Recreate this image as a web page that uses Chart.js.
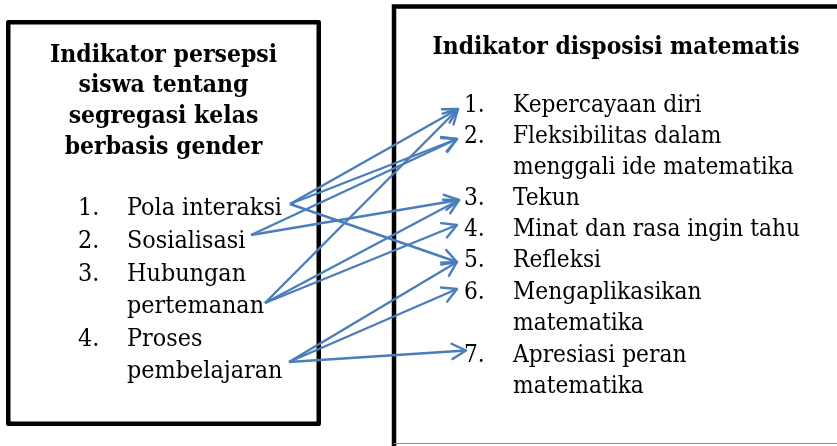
<!DOCTYPE html>
<html>
<head>
<meta charset="utf-8">
<script src="https://cdn.jsdelivr.net/npm/chart.js@4/dist/chart.umd.min.js"></script>
<style>
  html, body { margin: 0; padding: 0; background: #fff; }
  #wrap { width: 837px; height: 446px; }
</style>
</head>
<body>
<div id="wrap"><canvas id="c" width="837" height="446"></canvas></div>
<script>
// ---------- DATA ----------
const leftTitle = ["Indikator persepsi", "siswa tentang", "segregasi kelas", "berbasis gender"];
const leftNumbers = ["1.", "2.", "3.", "4."];
const leftLabels = [["Pola interaksi"], ["Sosialisasi"], ["Hubungan", "pertemanan"], ["Proses", "pembelajaran"]];

const rightTitle = ["Indikator disposisi matematis"];
const rightNumbers = ["1.", "2.", "3.", "4.", "5.", "6.", "7."];
const rightLabels = [
  ["Kepercayaan diri"],
  ["Fleksibilitas dalam", "menggali ide matematika"],
  ["Tekun"],
  ["Minat dan rasa ingin tahu"],
  ["Refleksi"],
  ["Mengaplikasikan", "matematika"],
  ["Apresiasi peran", "matematika"]
];

// links: left indicator number -> right indicator number
const linkFrom = [1, 1, 1, 2, 2, 3, 3, 3, 4, 4, 4];
const linkTo   = [1, 2, 5, 2, 3, 1, 3, 4, 5, 6, 7];

// ---------- LAYOUT (positions / sizes / styles) ----------
const layout = {
  W: 837, H: 446,
  blue: '#4a7ebb',
  font: '"DejaVu Serif Condensed", "DejaVu Serif", serif',
  capRatio: 0.729,
  leftBox: { x1: 8.25, y1: 22.25, x2: 318.75, y2: 423.75, lw: 4.5 },
  rightBox: { x1: 394, y1: 6.5, x2: 860, y2: 460, lw: 4.5, bottomY: 443.5 },
  leftTitle: { cx: 163.5, baselines: [62, 92, 123, 154], cap: 17.5, fitText: "Indikator persepsi", fitWidth: 227 },
  rightTitle: { cx: 616, baselines: [54], cap: 17.5, fitText: "Indikator disposisi matematis", fitWidth: 367 },
  leftList: { numX: 78, textX: 127, baselines: [[214.5], [247.5], [281, 313], [346, 377.5]], cap: 17.6, fitText: "Pola interaksi", fitWidth: 155 },
  rightList: { numX: 464, textX: 513, baselines: [[112], [143, 174], [205], [236], [267], [298.5, 330], [361.5, 392.5]], cap: 17.6, fitText: "Minat dan rasa ingin tahu", fitWidth: 287 },
  sourceAnchors: [[290, 204], [251, 235], [265, 303], [289, 362]],
  targetAnchors: [[458, 109], [457, 139], [459, 200], [457, 225], [457, 262], [457, 289], [466, 350.5]],
  head: { len: 16, angle: 0.50 }
};

// ---------- CHART ----------
const datasets = linkFrom.map((f, i) => {
  const s = layout.sourceAnchors[f - 1];
  const t = layout.targetAnchors[linkTo[i] - 1];
  return {
    label: 'link ' + f + '-' + linkTo[i],
    data: [{ x: s[0], y: s[1] }, { x: t[0], y: t[1] }],
    showLine: true,
    borderColor: layout.blue,
    backgroundColor: layout.blue,
    borderWidth: 2.4,
    pointRadius: 0,
    pointHoverRadius: 0,
    tension: 0
  };
});

// font size from cap height, horizontal scale to match the width
function fontSpec(ctx, cfg, weight) {
  const size = cfg.cap / layout.capRatio;
  const font = weight + ' ' + size.toFixed(2) + 'px ' + layout.font;
  ctx.font = font;
  const sx = cfg.fitWidth / ctx.measureText(cfg.fitText).width;
  return { font, sx };
}
function drawText(ctx, text, x, y, sx) {
  ctx.save();
  ctx.translate(x, y);
  ctx.scale(sx, 1);
  ctx.fillText(text, 0, 0);
  ctx.restore();
}

const diagramPlugin = {
  id: 'diagram',
  beforeDraw(chart) {
    const ctx = chart.ctx;
    ctx.save();
    ctx.fillStyle = '#fff';
    ctx.fillRect(0, 0, chart.width, chart.height);
    ctx.restore();
  },
  beforeDatasetsDraw(chart) {
    const ctx = chart.ctx;
    const xs = chart.scales.x, ys = chart.scales.y;
    const X = v => xs.getPixelForValue(v), Y = v => ys.getPixelForValue(v);
    ctx.save();
    // boxes
    ctx.strokeStyle = '#000';
    const lb = layout.leftBox;
    ctx.lineWidth = lb.lw;
    ctx.lineJoin = 'round';
    ctx.strokeRect(X(lb.x1), Y(lb.y1), X(lb.x2) - X(lb.x1), Y(lb.y2) - Y(lb.y1));
    const rb = layout.rightBox;
    ctx.lineWidth = rb.lw;
    ctx.lineJoin = 'miter';
    ctx.strokeRect(X(rb.x1), Y(rb.y1), X(rb.x2) - X(rb.x1), Y(rb.y2) - Y(rb.y1));
    ctx.strokeStyle = '#8a8a8a';
    ctx.lineWidth = 1.2;
    ctx.beginPath();
    ctx.moveTo(X(rb.x1), Y(rb.bottomY));
    ctx.lineTo(X(layout.W), Y(rb.bottomY));
    ctx.stroke();

    // text
    ctx.fillStyle = '#000';
    ctx.textBaseline = 'alphabetic';
    [[leftTitle, layout.leftTitle], [rightTitle, layout.rightTitle]].forEach(([lines, cfg]) => {
      const f = fontSpec(ctx, cfg, 'bold');
      ctx.font = f.font;
      ctx.textAlign = 'center';
      lines.forEach((ln, i) => drawText(ctx, ln, X(cfg.cx), Y(cfg.baselines[i]), f.sx));
    });
    [[leftNumbers, leftLabels, layout.leftList], [rightNumbers, rightLabels, layout.rightList]].forEach(([nums, labels, cfg]) => {
      const f = fontSpec(ctx, cfg, 'normal');
      ctx.font = f.font;
      ctx.textAlign = 'left';
      nums.forEach((n, i) => {
        const bl = cfg.baselines[i];
        drawText(ctx, n, X(cfg.numX), Y(bl[0]), f.sx);
        labels[i].forEach((ln, j) => drawText(ctx, ln, X(cfg.textX), Y(bl[j]), f.sx));
      });
    });
    ctx.restore();
  },
  afterDatasetsDraw(chart) {
    const ctx = chart.ctx;
    ctx.save();
    chart.data.datasets.forEach((ds, i) => {
      const meta = chart.getDatasetMeta(i);
      const p0 = meta.data[0], p1 = meta.data[1];
      const a = Math.atan2(p1.y - p0.y, p1.x - p0.x);
      const L = layout.head.len, h = layout.head.angle;
      ctx.strokeStyle = ds.borderColor;
      ctx.lineWidth = ds.borderWidth;
      ctx.lineCap = 'round';
      ctx.lineJoin = 'round';
      ctx.beginPath();
      ctx.moveTo(p1.x - L * Math.cos(a - h), p1.y - L * Math.sin(a - h));
      ctx.lineTo(p1.x, p1.y);
      ctx.lineTo(p1.x - L * Math.cos(a + h), p1.y - L * Math.sin(a + h));
      ctx.stroke();
    });
    ctx.restore();
  }
};

new Chart(document.getElementById('c'), {
  type: 'scatter',
  data: { datasets },
  options: {
    responsive: false,
    devicePixelRatio: 1,
    animation: false,
    events: [],
    layout: { padding: 0 },
    plugins: { legend: { display: false }, tooltip: { enabled: false }, title: { display: false } },
    scales: {
      x: { type: 'linear', min: 0, max: layout.W, display: false },
      y: { type: 'linear', min: 0, max: layout.H, reverse: true, display: false }
    }
  },
  plugins: [diagramPlugin]
});
</script>
</body>
</html>
